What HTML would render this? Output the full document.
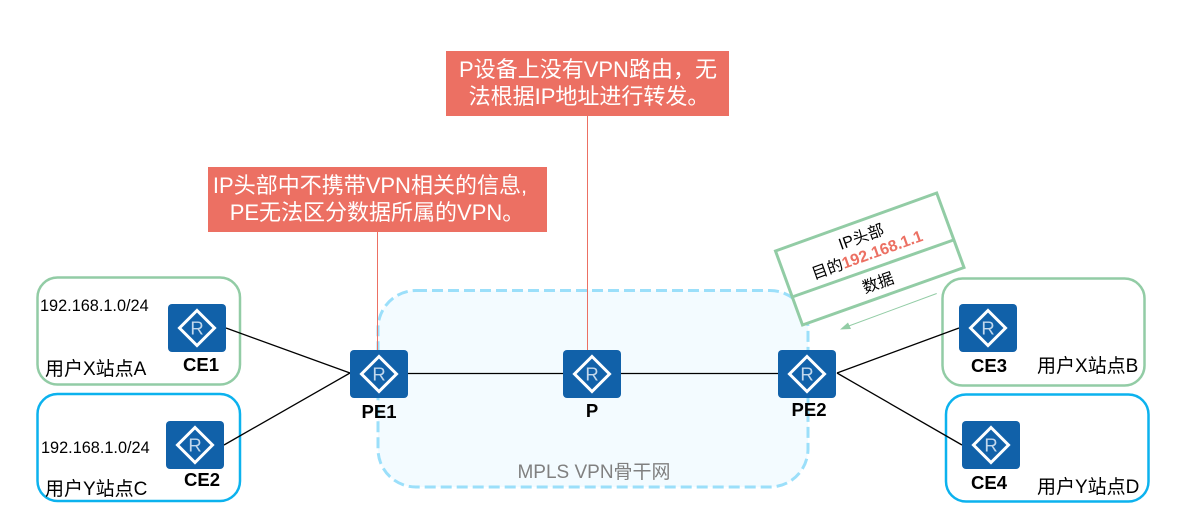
<!DOCTYPE html>
<html>
<head>
<meta charset="utf-8">
<style>
html,body{margin:0;padding:0;background:#fff;}
svg{display:block;}
text{font-family:"Liberation Sans","Noto Sans CJK SC",sans-serif;}
.w{fill:#fff;font-size:22px;text-anchor:middle;}
.b{font-size:18.500px;font-weight:bold;fill:#000;text-anchor:middle;}
.s{font-size:19px;fill:#000;}
.ip{font-size:16.300px;fill:#000;}
.r{fill:#c2d8ec;font-size:18.500px;text-anchor:middle;}
</style>
</head>
<body>
<svg width="1179" height="518" viewBox="0 0 1179 518" xmlns="http://www.w3.org/2000/svg">
<defs>
<g id="router">
<rect x="0" y="0" width="58" height="48" rx="4" fill="#1161a9"/>
<polygon points="29,6.500 46.500,24 29,41.500 11.500,24" fill="none" stroke="#fff" stroke-width="3"/>
</g>
</defs>
<rect width="1179" height="518" fill="#fff"/>

<!-- backbone -->
<rect x="378" y="290.500" width="430" height="196.500" rx="38" fill="#f3fbff" stroke="#9bdffa" stroke-width="3" stroke-dasharray="11 5"/>
<text x="594" y="478" font-size="19" fill="#808080" text-anchor="middle">MPLS VPN骨干网</text>

<!-- site boxes -->
<rect x="37.500" y="277.500" width="202.500" height="107" rx="20" fill="#fff" stroke="#92cca5" stroke-width="2.500"/>
<rect x="37.500" y="394" width="202.500" height="107" rx="20" fill="#fff" stroke="#0cb2ee" stroke-width="2.500"/>
<rect x="942.500" y="278.500" width="202" height="107" rx="20" fill="#fff" stroke="#92cca5" stroke-width="2.500"/>
<rect x="946" y="394.500" width="202.500" height="107" rx="20" fill="#fff" stroke="#0cb2ee" stroke-width="2.500"/>

<!-- callout leaders -->
<line x1="377.500" y1="232" x2="377.500" y2="350" stroke="#ec7063" stroke-width="1"/>
<line x1="587.500" y1="116" x2="587.500" y2="350" stroke="#ec7063" stroke-width="1"/>

<!-- links -->
<g stroke="#000" stroke-width="1.300" fill="none">
<line x1="226" y1="328" x2="350" y2="373"/>
<line x1="224" y1="445" x2="350" y2="373"/>
<line x1="408" y1="373.500" x2="563" y2="373.500"/>
<line x1="621" y1="373.500" x2="778" y2="373.500"/>
<line x1="837" y1="373" x2="959" y2="328"/>
<line x1="837" y1="373" x2="962" y2="445"/>
</g>

<!-- routers -->
<use href="#router" x="168" y="304"/>
<text class="r" x="197" y="334.500">R</text>
<use href="#router" x="166" y="421"/>
<text class="r" x="195" y="451.500">R</text>
<use href="#router" x="350" y="350"/>
<text class="r" x="379" y="380.500">R</text>
<use href="#router" x="563" y="350"/>
<text class="r" x="592" y="380.500">R</text>
<use href="#router" x="778" y="350"/>
<text class="r" x="807" y="380.500">R</text>
<use href="#router" x="959" y="304"/>
<text class="r" x="988" y="334.500">R</text>
<use href="#router" x="962" y="421"/>
<text class="r" x="991" y="451.500">R</text>

<!-- router labels -->
<text class="b" x="201" y="371">CE1</text>
<text class="b" x="202" y="486">CE2</text>
<text class="b" x="379" y="418">PE1</text>
<text class="b" x="592" y="417">P</text>
<text class="b" x="809" y="416">PE2</text>
<text class="b" x="989" y="372">CE3</text>
<text class="b" x="989" y="489">CE4</text>

<!-- site labels -->
<text class="s" x="45" y="375">用户X站点A</text>
<text class="s" x="45" y="495">用户Y站点C</text>
<text class="s" x="1037" y="372">用户X站点B</text>
<text class="s" x="1037" y="493">用户Y站点D</text>
<text class="ip" x="40" y="311">192.168.1.0/24</text>
<text class="ip" x="41" y="453">192.168.1.0/24</text>

<!-- callouts -->
<rect x="446" y="51" width="283" height="65" fill="#ec7063"/>
<text class="w" x="588" y="77">P设备上没有VPN路由，无</text>
<text class="w" x="589" y="104">法根据IP地址进行转发。</text>
<rect x="208" y="167" width="339" height="65" fill="#ec7063"/>
<text class="w" x="370" y="193">IP头部中不携带VPN相关的信息,</text>
<text class="w" x="377" y="220">PE无法区分数据所属的VPN。</text>

<!-- rotated packet -->
<polygon points="936.700,193 775.500,251 802.500,325 964,267.500" fill="#fff" stroke="#92cca5" stroke-width="3"/>
<line x1="793.500" y1="296.500" x2="953.500" y2="240" stroke="#92cca5" stroke-width="3"/>
<g text-anchor="middle" font-size="16">
<text transform="translate(863,242) rotate(-19.700)" fill="#000">IP头部</text>
<text transform="translate(869,260) rotate(-19.700)" fill="#000">目的<tspan fill="#ec7063" font-weight="bold">192.168.1.1</tspan></text>
<text transform="translate(880,288) rotate(-19.700)" fill="#000">数据</text>
</g>

<!-- flow arrow -->
<line x1="936.700" y1="293.500" x2="846" y2="327" stroke="#92cca5" stroke-width="1"/>
<polygon points="840,329.500 848,322.500 851,329" fill="#92cca5"/>
</svg>
</body>
</html>
